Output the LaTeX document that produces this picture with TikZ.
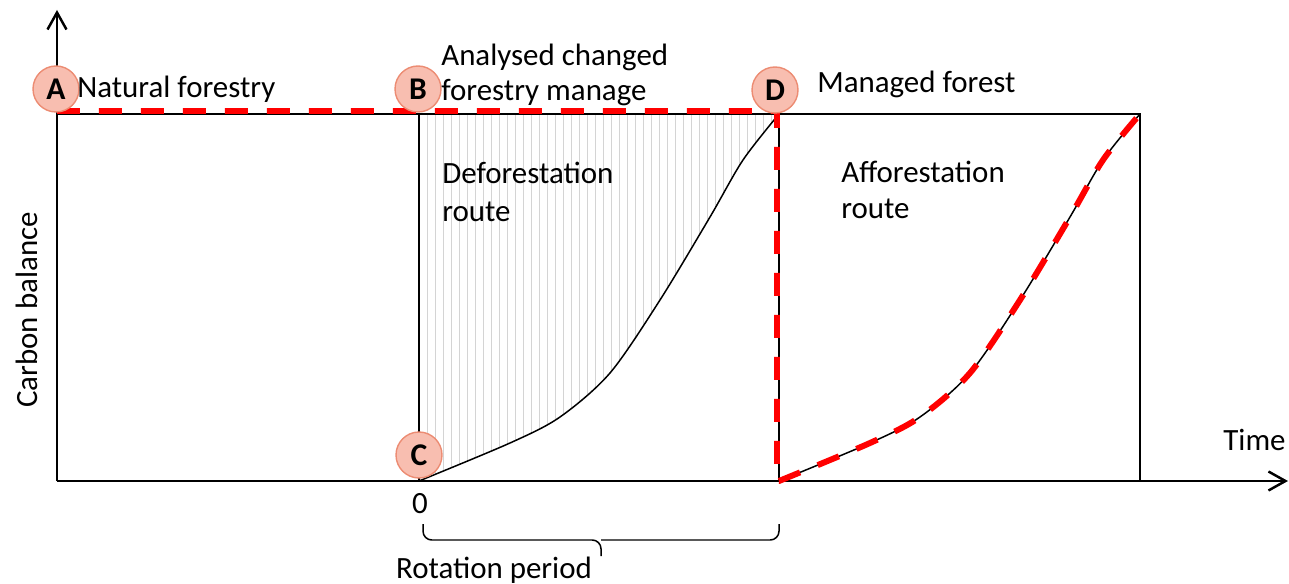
\documentclass[tikz,border=0pt]{standalone}
\usepackage{fontspec}
\setmainfont{Carlito}
\usetikzlibrary{arrows.meta}

\definecolor{markfill}{RGB}{248,190,176}
\definecolor{markline}{RGB}{236,140,115}
\definecolor{routered}{RGB}{255,0,0}
\definecolor{hatchgray}{RGB}{212,212,212}

\begin{document}
\begin{tikzpicture}[x=0.02cm, y=-0.02cm,
    axisline/.style={line width=1.4pt, -{Straight Barb[length=0.34cm, width=0.38cm]}},
    frameline/.style={line width=0.85pt},
    routeline/.style={draw=routered, line width=3.4pt, dash pattern=on 0.46cm off 0.38cm},
    marker/.style={circle, fill=markfill, draw=markline, line width=0.8pt, minimum size=0.92cm, inner sep=0pt, font=\fontsize{18}{18}\bfseries\selectfont},
    lbl/.style={inner sep=0pt, font=\fontsize{17.6}{21}\selectfont, align=left}]
    \useasboundingbox (0,0) rectangle (1289,584);
    % Corner points:
    \coordinate (O) at (57,481);
    \coordinate (Ytop) at (57,10);
    \coordinate (Xend) at (1288,481);
    \coordinate (Tl) at (57,114);
    \coordinate (Tr) at (1140,114);
    \coordinate (Zero) at (419,481);
    \coordinate (Zt) at (419,114);
    \coordinate (Rot) at (779,481);
    \coordinate (Rt) at (779,114);
    \coordinate (End) at (1140,481);
    % Hatched area above the deforestation curve:
    \begin{scope}
        \clip plot[smooth] coordinates {(419,481) (510,443) (560,417) (610,373) (660,300) (710,217) (743,160) (777,115)} -- (Rt) -- (Zt) -- cycle;
        \foreach \hx in {427,435,...,779}
            \draw[hatchgray, line width=0.55pt] (\hx,114) -- (\hx,481);
    \end{scope}
    % Frame, axes and curves:
    \draw[frameline] (Tl) -- (Tr) -- (End);
    \draw[frameline] (Rt) -- (Rot);
    \draw[line width=1.5pt] (Zt) -- (Zero);
    \draw[axisline] (O) -- (Ytop);
    \draw[axisline] (O) -- (Xend);
    \draw[frameline] plot[smooth] coordinates {(419,481) (510,443) (560,417) (610,373) (660,300) (710,217) (743,160) (779,114)};
    \draw[frameline] plot[smooth] coordinates {(779,481) (870,443) (920,417) (970,373) (1020,300) (1070,217) (1103,160) (1140,114)};
    % Red route:
    \draw[routeline] (57,111) -- (777,111) -- (777,481) -- plot[smooth] coordinates {(779,481) (870,443) (920,417) (970,373) (1020,300) (1070,217) (1103,160) (1140,114)};
    % Brace:
    \draw[frameline, rounded corners=5] (423,524) |- (601,540) -- (601,556);
    \draw[frameline, rounded corners=5] (779,524) |- (601,540);
    % Markers:
    \node[marker] (A) at (56,89) {A};
    \node[marker] (B) at (418,89) {B};
    \node[marker] (C) at (419,455) {C};
    \node[marker] (D) at (775,90) {D};
    % Labels:
    \node[lbl, anchor=base west] (natural) at (77,98) {Natural forestry};
    \node[lbl, anchor=base west, font=\fontsize{17.6}{20.4}\selectfont] (analysed) at (441,101) {Analysed changed\\forestry manage};
    \node[lbl, anchor=base west] (managed) at (817,93) {Managed forest};
    \node[lbl, anchor=base west, font=\fontsize{17.6}{22}\selectfont] (defo) at (442,222) {Deforestation\\route};
    \node[lbl, anchor=base west] (affo) at (841,219) {Afforestation\\route};
    \node[lbl, rotate=90, anchor=base] (cbal) at (37,310) {Carbon balance};
    \node[lbl, anchor=base west] (time) at (1223,450) {Time};
    \node[lbl, anchor=base] (zero) at (420,513) {0};
    \node[lbl, anchor=base] (rotation) at (494,578) {Rotation period};
\end{tikzpicture}
\end{document}
